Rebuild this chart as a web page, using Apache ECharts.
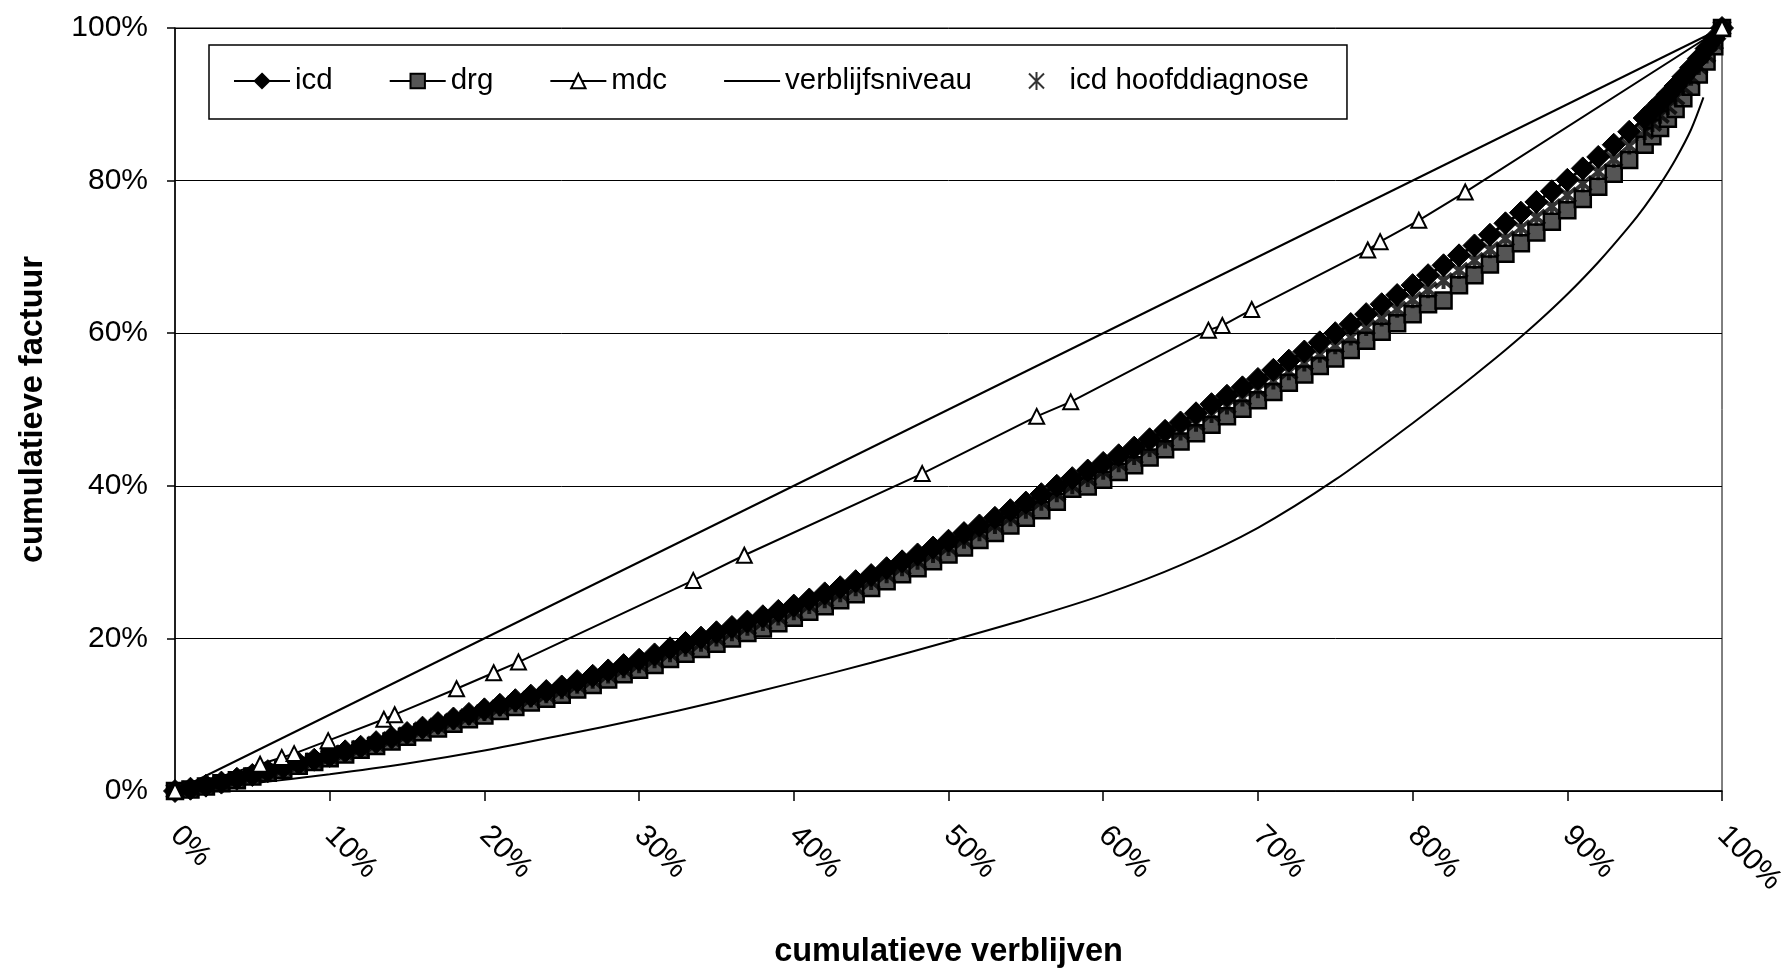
<!DOCTYPE html>
<html>
<head>
<meta charset="utf-8">
<title>cumulatieve factuur</title>
<script src="https://cdn.jsdelivr.net/npm/echarts@6/dist/echarts.min.js"></script>
<style>
    html, body { margin: 0; padding: 0; background: #fff; }
    #main { width: 1789px; height: 974px; }
</style>
</head>
<body>
<div id="main"></div>
<script>
// x positions (cumulatieve verblijven, %) shared by the icd / drg / hoofddiagnose bands
const verblijvenPct = [0,1,2,3,4,5,6,7,8,9,10,11,12,13,14,15,16,17,18,19,20,21,22,23,24,25,26,27,28,29,30,
    31,32,33,34,35,36,37,38,39,40,41,42,43,44,45,46,47,48,49,50,51,52,53,54,55,56,57,58,59,60,
    61,62,63,64,65,66,67,68,69,70,71,72,73,74,75,76,77,78,79,80,81,82,83,84,85,86,87,88,89,90,
    91,92,93,94,95,95.5,96,96.5,97,97.5,98,98.5,99,99.5,100];

const icdPct = [0,0.3,0.7,1.1,1.6,2.1,2.6,3.1,3.6,4.1,4.6,5.2,5.8,6.4,7.0,7.6,8.3,8.9,9.5,10.1,10.7,11.3,11.9,12.5,13.1,13.7,14.4,15.1,15.8,16.5,17.2,
    17.9,18.7,19.4,20.1,20.8,21.5,22.2,22.9,23.6,24.3,25.1,25.9,26.7,27.5,28.3,29.2,30.1,31.0,31.9,32.8,33.8,34.8,35.8,36.8,37.8,38.9,40.0,41.0,42.0,43.0,
    44.0,45.0,46.1,47.2,48.3,49.5,50.7,51.8,52.9,54.0,55.2,56.4,57.6,58.8,60.0,61.2,62.5,63.8,65.0,66.3,67.6,68.9,70.2,71.5,72.9,74.4,75.8,77.2,78.6,80.1,
    81.6,83.1,84.7,86.4,88.2,89.2,90.2,91.3,92.4,93.6,94.8,96.0,97.3,98.6,100];

const drgPct = [0,0.2,0.6,1.0,1.4,1.9,2.4,2.8,3.3,3.8,4.3,4.8,5.4,5.9,6.5,7.1,7.7,8.2,8.8,9.4,9.9,10.5,11.0,11.6,12.1,12.6,13.3,13.9,14.6,15.3,15.9,
    16.5,17.3,18.0,18.6,19.3,20.0,20.7,21.3,22.0,22.7,23.5,24.2,25.0,25.8,26.6,27.5,28.4,29.2,30.1,31.0,31.9,32.9,33.8,34.8,35.8,36.8,37.9,39.6,39.9,40.8,
    41.8,42.7,43.7,44.8,45.8,46.9,48.0,49.1,50.1,51.2,52.3,53.5,54.6,55.7,56.7,57.8,59.0,60.2,61.3,62.5,63.8,64.3,66.3,67.6,69.0,70.4,71.8,73.2,74.6,76.1,
    77.6,79.2,80.9,82.7,84.7,85.8,86.9,88.1,89.4,90.8,92.3,93.9,95.6,97.6,100];

const hoofddiagnosePct = [0,0.25,0.65,1.05,1.5,2.0,2.5,2.95,3.45,3.95,4.45,5.0,5.6,6.15,6.75,7.35,8.0,8.55,9.15,9.75,10.3,10.9,11.45,12.05,12.6,13.15,13.85,14.5,15.2,15.9,16.55,
    17.2,18.0,18.7,19.35,20.05,20.75,21.45,22.1,22.8,23.5,24.3,25.05,25.85,26.65,27.45,28.35,29.25,30.1,31.0,31.9,32.85,33.85,34.8,35.8,36.8,37.85,38.95,40.0,40.95,41.9,
    42.9,43.85,44.9,46.0,47.05,48.2,49.35,50.45,51.5,52.6,53.75,54.95,56.1,57.25,58.35,59.5,60.75,62.0,63.15,64.4,65.7,66.9,68.25,69.55,70.95,72.4,73.8,75.2,76.6,78.1,
    79.6,81.15,82.8,84.55,86.45,87.5,88.55,89.7,90.9,92.2,93.55,94.95,96.45,98.1,100];

const mdcX = [0,5.5,6.9,7.7,9.9,13.5,14.2,18.2,20.6,22.2,33.5,36.8,48.3,55.7,57.9,66.8,67.7,69.6,77.1,77.9,80.4,83.4,100];
const mdcY = [0,3.5,4.4,4.9,6.6,9.4,10.0,13.4,15.5,16.9,27.6,30.9,41.6,49.1,51.0,60.4,61.0,63.1,70.9,72.0,74.8,78.5,100];

const niveauX = [0,5,10,15,20,25,30,35,40,45,50,55,60,65,70,75,80,82,84,86,88,90,92,94,95,96,97,98,98.8];
const niveauY = [0,1.0,2.2,3.6,5.3,7.3,9.4,11.7,14.2,16.8,19.6,22.5,25.7,29.6,34.5,40.8,48.2,51.3,54.5,57.8,61.3,65.1,69.3,74.0,76.6,79.5,82.8,86.7,90.9];

const gelijkX = [0,100];
const gelijkY = [0,100];

const legendNames = ['icd', 'drg', 'mdc', 'verblijfsniveau', 'icd hoofddiagnose'];

function zip(xs, ys) {
    return xs.map((x, i) => [x, ys[i]]);
}

const fontFamily = "'Liberation Sans', Arial, Helvetica, sans-serif";
const asterisk = 'path://M0,0L10,10M10,0L0,10M5,-1L5,11';

var myChart = echarts.init(document.getElementById('main'));
myChart.setOption({
    animation: false,
    backgroundColor: '#fff',
    textStyle: { fontFamily: fontFamily, color: '#000' },
    grid: {
        left: 175, right: 55, top: 28, bottom: 179,
        show: true, borderColor: '#000', borderWidth: 1
    },
    legend: {
        data: legendNames.map(function (n) {
            // the plain line has no marker in its legend icon
            return n === 'verblijfsniveau' ? { name: n, itemStyle: { opacity: 0 } } : n;
        }),
        left: 209, top: 45,
        padding: [21, 38, 23, 24],
        itemGap: 56,
        itemWidth: 56,
        itemHeight: 18,
        borderColor: '#000',
        borderWidth: 1.5,
        selectedMode: false,
        textStyle: { fontSize: 29.5, color: '#000', fontFamily: fontFamily }
    },
    xAxis: {
        type: 'value',
        min: 0, max: 100, interval: 10,
        name: 'cumulatieve verblijven',
        nameLocation: 'middle',
        nameGap: 145,
        nameTextStyle: { fontSize: 32.5, fontWeight: 'bold', color: '#000', fontFamily: fontFamily },
        axisLine: { lineStyle: { color: '#000', width: 1.5 } },
        axisTick: { show: true, length: 10, lineStyle: { color: '#000', width: 1.5 } },
        axisLabel: {
            rotate: -45, margin: 40, fontSize: 30, color: '#000', fontFamily: fontFamily,
            formatter: '{value}%', showMaxLabel: true, showMinLabel: true
        },
        splitLine: { show: false }
    },
    yAxis: {
        type: 'value',
        min: 0, max: 100, interval: 20,
        name: 'cumulatieve factuur',
        nameLocation: 'middle',
        nameGap: 125,
        nameTextStyle: { fontSize: 32.5, fontWeight: 'bold', color: '#000', fontFamily: fontFamily },
        axisLine: { show: true, lineStyle: { color: '#000', width: 1.5 } },
        axisTick: { show: true, length: 8, lineStyle: { color: '#000', width: 1.5 } },
        axisLabel: { margin: 27, fontSize: 30, color: '#000', fontFamily: fontFamily, formatter: '{value}%' },
        splitLine: { show: true, lineStyle: { color: '#000', width: 1 } }
    },
    series: [
        {
            name: 'gelijkverdeling',
            type: 'line',
            data: zip(gelijkX, gelijkY),
            symbol: 'none',
            lineStyle: { color: '#000', width: 2 },
            z: 2
        },
        {
            name: 'verblijfsniveau',
            type: 'line',
            data: zip(niveauX, niveauY),
            symbol: 'none',
            smooth: 0.3,
            lineStyle: { color: '#000', width: 2 },
            itemStyle: { color: '#000' },
            z: 2
        },
        {
            name: 'mdc',
            type: 'line',
            data: zip(mdcX, mdcY),
            symbol: 'triangle',
            symbolSize: 15,
            showAllSymbol: true,
            lineStyle: { color: '#000', width: 2 },
            itemStyle: { color: '#fff', borderColor: '#000', borderWidth: 2 },
            z: 4
        },
        {
            name: 'drg',
            type: 'line',
            data: zip(verblijvenPct, drgPct),
            symbol: 'rect',
            symbolSize: 16,
            showAllSymbol: true,
            lineStyle: { color: '#000', width: 3 },
            itemStyle: { color: '#555', borderColor: '#000', borderWidth: 2.5 },
            z: 3
        },
        {
            name: 'icd hoofddiagnose',
            type: 'scatter',
            data: zip(verblijvenPct, hoofddiagnosePct),
            symbol: asterisk,
            symbolSize: 17,
            itemStyle: { color: '#000', borderColor: '#000', borderWidth: 4 },
            z: 3
        },
        {
            name: 'icd',
            type: 'line',
            data: zip(verblijvenPct, icdPct),
            symbol: 'diamond',
            symbolSize: 23,
            showAllSymbol: true,
            lineStyle: { color: '#000', width: 3 },
            itemStyle: { color: '#000', borderColor: '#000', borderWidth: 1 },
            z: 3
        }
    ]
});
</script>
</body>
</html>
